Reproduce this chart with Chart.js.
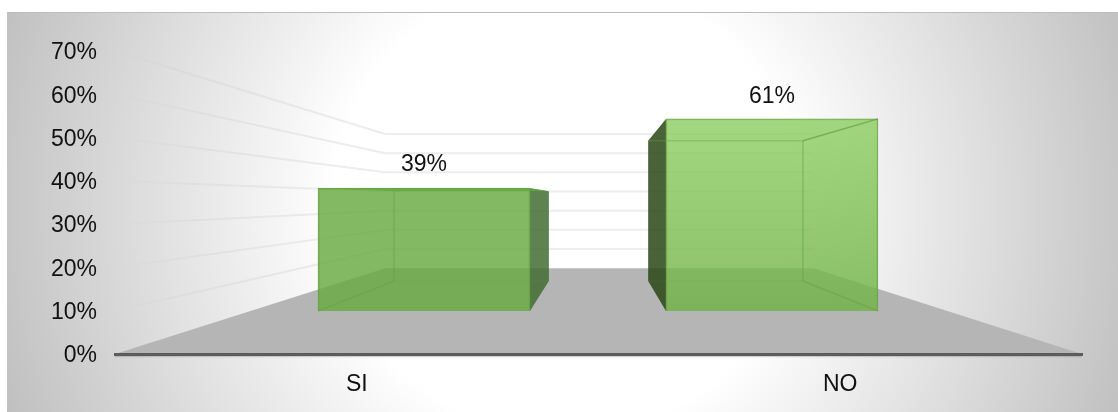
<!DOCTYPE html>
<html>
<head>
<meta charset="utf-8">
<style>html,body{margin:0;padding:0;background:#fff}canvas{display:block}</style>
<script src="https://cdn.jsdelivr.net/npm/chart.js@4"></script>
</head>
<body>
<div style="width:1118px;height:412px"><canvas id="c" width="1118" height="412"></canvas></div>
<script>
const categories = ['SI', 'NO'];
const values = [39, 61];
const labels3d = ['39%', '61%'];
const FONT = '"Liberation Sans", Arial, sans-serif';
const VP = {x: 600, y: 200};
const WALL_K = 0.443, BAR_K = 0.73;
const project = (x, y, k) => [VP.x + (x - VP.x) * k, VP.y + (y - VP.y) * k];

function poly(ctx, pts, fill, stroke, lw) {
  ctx.beginPath();
  pts.forEach((p, i) => i ? ctx.lineTo(p[0], p[1]) : ctx.moveTo(p[0], p[1]));
  ctx.closePath();
  if (fill) { ctx.fillStyle = fill; ctx.fill(); }
  if (stroke) { ctx.strokeStyle = stroke; ctx.lineWidth = lw || 1; ctx.stroke(); }
}
function seg(ctx, a, b, stroke, lw) {
  ctx.beginPath(); ctx.moveTo(a[0], a[1]); ctx.lineTo(b[0], b[1]);
  ctx.strokeStyle = stroke; ctx.lineWidth = lw; ctx.stroke();
}

const scene = {
  id: 'scene',
  beforeDraw(chart) {
    const ctx = chart.ctx, ca = chart.chartArea, ys = chart.scales.y;
    ctx.save();
    const g = ctx.createRadialGradient(565, 205, 230, 565, 205, 600);
    g.addColorStop(0, '#ffffff');
    g.addColorStop(1, '#bfbfbf');
    ctx.fillStyle = g;
    ctx.fillRect(7, 12, 1111, 400);
    ctx.fillStyle = '#bdbdbd';
    ctx.fillRect(7, 12, 1111, 1);
    const y0 = ys.getPixelForValue(0);
    poly(ctx, [[ca.left, y0], [ca.right, y0], project(ca.right, y0, WALL_K), project(ca.left, y0, WALL_K)], '#b5b5b5');
    seg(ctx, [ca.left, y0 + 2.5], [ca.right, y0 + 2.5], 'rgba(120,120,120,0.3)', 1.5);
    ys.ticks.forEach(t => {
      if (t.value === 0) return;
      const py = ys.getPixelForValue(t.value);
      const bend = project(ca.left, py, WALL_K), end = project(ca.right, py, WALL_K);
      const lg = ctx.createLinearGradient(ca.left, 0, bend[0], 0);
      lg.addColorStop(0, 'rgba(170,170,170,0.0)');
      lg.addColorStop(0.3, 'rgba(170,170,170,0.12)');
      lg.addColorStop(1, 'rgba(190,190,190,0.3)');
      seg(ctx, [ca.left + 5, py - (py - bend[1]) * 5 / (bend[0] - ca.left)], bend, lg, 2);
      seg(ctx, bend, end, 'rgba(190,190,190,0.28)', 2);
    });
    ctx.restore();
  },
  beforeDatasetsDraw(chart) {
    const ctx = chart.ctx;
    ctx.save();
    chart.getDatasetMeta(0).data.forEach((bar, i) => {
      const p = bar.getProps(['x', 'y', 'base', 'width'], true);
      const l = p.x - p.width / 2, r = p.x + p.width / 2, t = p.y, b = p.base;
      if (i === 0) {
        poly(ctx, [[r, t], project(r, t, BAR_K), project(r, b, BAR_K), [r, b]], 'rgba(67,109,49,0.85)');
        poly(ctx, [[l, t], [r, t], project(r, t, BAR_K), project(l, t, BAR_K)], 'rgba(100,160,70,0.9)');
      } else {
        poly(ctx, [[l, t], project(l, t, BAR_K), project(l, b, BAR_K), [l, b]], 'rgba(42,70,21,0.85)');
      }
    });
    ctx.restore();
  },
  afterDatasetsDraw(chart) {
    const ctx = chart.ctx;
    ctx.save();
    chart.getDatasetMeta(0).data.forEach((bar, i) => {
      const p = bar.getProps(['x', 'y', 'base', 'width'], true);
      const l = p.x - p.width / 2, r = p.x + p.width / 2, t = p.y, b = p.base;
      const lt = project(l, t, BAR_K), rt = project(r, t, BAR_K), lb = project(l, b, BAR_K), rb = project(r, b, BAR_K);
      if (i === 0) {
        seg(ctx, [l, b], lb, 'rgba(100,160,65,0.45)', 1.5);
        seg(ctx, lb, lt, 'rgba(100,160,65,0.45)', 1.5);
        seg(ctx, lb, rb, 'rgba(100,160,65,0.15)', 1);
      } else {
        seg(ctx, [r, b], rb, 'rgba(100,160,65,0.45)', 1.5);
        seg(ctx, rb, rt, 'rgba(100,160,65,0.45)', 1.5);
        seg(ctx, [r, t], rt, 'rgba(100,160,65,0.7)', 1.5);
        seg(ctx, lt, rt, 'rgba(100,160,65,0.35)', 1.5);
        seg(ctx, lb, rb, 'rgba(100,160,65,0.12)', 1);
      }
      ctx.fillStyle = '#111';
      ctx.font = '23px ' + FONT;
      ctx.textAlign = 'center';
      ctx.textBaseline = 'middle';
      ctx.fillText(labels3d[i], p.x, t - (i === 0 ? 24 : 22));
    });
    ctx.restore();
  }
};

new Chart(document.getElementById('c'), {
  type: 'bar',
  data: {
    labels: categories,
    datasets: [{
      data: categories.map((c, i) => ({x: i + 1, y: values[i]})),
      xAxisID: 'xBar',
      yAxisID: 'yBar',
      barThickness: 212,
      borderWidth: 1,
      borderColor: 'rgba(100,160,65,0.9)',
      backgroundColor(ctx) {
        const chart = ctx.chart;
        if (ctx.dataIndex === 0 || !chart.chartArea) return 'rgba(105,170,65,0.82)';
        const g = chart.ctx.createLinearGradient(0, 119, 0, 311);
        g.addColorStop(0, 'rgba(143,207,100,0.82)');
        g.addColorStop(1, 'rgba(112,178,70,0.82)');
        return g;
      }
    }]
  },
  options: {
    responsive: false,
    animation: false,
    layout: {padding: {top: 51, right: 36, left: 0, bottom: 0}},
    plugins: {legend: {display: false}, tooltip: {enabled: false}},
    scales: {
      x: {
        type: 'category',
        position: 'bottom',
        grid: {display: false, drawTicks: false},
        border: {display: true, color: '#5c5c5c', width: 3},
        ticks: {color: '#111', font: {family: FONT, size: 23}, padding: 17, maxRotation: 0},
        afterFit(s) { s.height = 58; }
      },
      y: {
        type: 'linear',
        position: 'left',
        min: 0, max: 70,
        grid: {display: false, drawTicks: false},
        border: {display: false},
        ticks: {stepSize: 10, color: '#111', font: {family: FONT, size: 23}, padding: 18, labelOffset: 2,
                callback: v => v + '%'},
        afterFit(s) { s.width = 115; }
      },
      xBar: {type: 'linear', display: false, position: 'bottom', offset: false, min: 0.112, max: 2.891,
             ticks: {stepSize: 1}, grid: {display: false}},
      yBar: {type: 'linear', display: false, position: 'left', min: -13.65, max: 82.55,
             grid: {display: false}}
    }
  },
  plugins: [scene]
});
</script>
</body>
</html>
